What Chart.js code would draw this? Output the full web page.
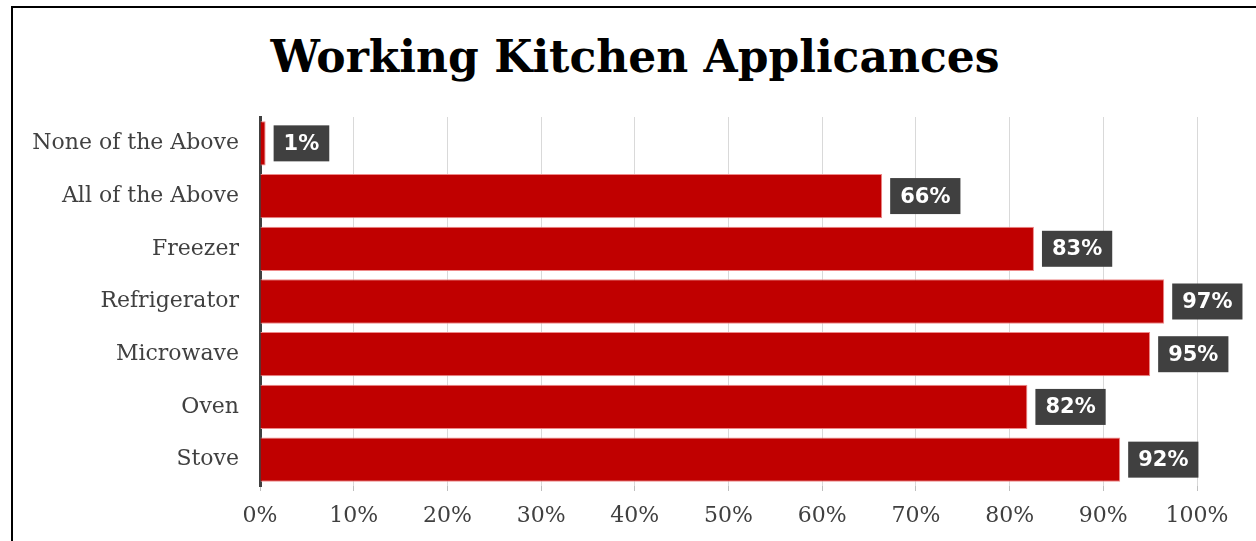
<!DOCTYPE html>
<html>
<head>
<meta charset="utf-8">
<script src="https://cdn.jsdelivr.net/npm/chart.js@4.4.1/dist/chart.umd.min.js"></script>
<style>
    html, body { margin: 0; padding: 0; background: #fff; overflow: hidden; }
    #wrap { position: relative; width: 1256px; height: 541px; }
    #frame { position: absolute; left: 11px; top: 6px; width: 1300px; height: 600px;
             border-left: 2px solid #000; border-top: 2px solid #000; }
    #title { position: absolute; left: 0; width: 1270px; top: 31px; text-align: center;
             font: bold 44px "DejaVu Serif", serif; color: #000; }
    canvas { position: absolute; left: 0; top: 0; }
</style>
</head>
<body>
<div id="wrap">
    <div id="frame"></div>
    <div id="title">Working Kitchen Applicances</div>
    <canvas id="chart" width="1256" height="541"></canvas>
</div>
<script>
// categories, top to bottom
const categories = ['None of the Above', 'All of the Above', 'Freezer', 'Refrigerator', 'Microwave', 'Oven', 'Stove'];
// share of respondents, percent
const values = [0.6, 66.4, 82.6, 96.5, 95.0, 81.9, 91.8];
const tickLabels = ['0%', '10%', '20%', '30%', '40%', '50%', '60%', '70%', '80%', '90%', '100%'];

// value boxes at the end of each bar
const barLabels = {
    id: 'barLabels',
    afterDatasetsDraw(chart) {
        const ctx = chart.ctx;
        const meta = chart.getDatasetMeta(0);
        ctx.save();
        ctx.font = 'bold 21px "DejaVu Sans", sans-serif';
        ctx.textBaseline = 'middle';
        meta.data.forEach((bar, i) => {
            const txt = Math.round(values[i]) + '%';
            const w = ctx.measureText(txt).width + 20;
            const h = 36;
            const x = bar.x + 8;
            const y = bar.y - h / 2;
            ctx.fillStyle = '#404040';
            ctx.fillRect(x, y, w, h);
            ctx.fillStyle = '#fff';
            ctx.textAlign = 'center';
            ctx.fillText(txt, x + w / 2, bar.y + 1);
        });
        ctx.restore();
    }
};

new Chart(document.getElementById('chart'), {
    type: 'bar',
    data: {
        labels: categories,
        datasets: [{
            data: values,
            backgroundColor: '#c00000',
            borderColor: '#ee8a8a',
            borderWidth: 1,
            borderSkipped: 'left',
            categoryPercentage: 1,
            barPercentage: 0.84
        }]
    },
    options: {
        indexAxis: 'y',
        responsive: false,
        animation: false,
        layout: { padding: { left: 12, right: 59, top: 117, bottom: 0 } },
        plugins: {
            legend: { display: false },
            tooltip: { enabled: false }
        },
        scales: {
            x: {
                min: 0, max: 100,
                ticks: {
                    stepSize: 10,
                    color: '#404040',
                    padding: 12,
                    font: { family: '"DejaVu Serif", serif', size: 22 },
                    callback: (v, i) => tickLabels[i]
                },
                grid: { color: '#d9d9d9', lineWidth: 1, tickLength: 5, tickColor: '#bfbfbf' },
                border: { display: false },
                afterFit: s => { s.height = 55; }
            },
            y: {
                ticks: {
                    color: '#404040',
                    padding: 21,
                    font: { family: '"DejaVu Serif", serif', size: 22 }
                },
                grid: { display: false, drawTicks: false },
                border: { display: true, color: '#404040', width: 3 },
                afterFit: s => { s.width = 248; }
            }
        }
    },
    plugins: [barLabels]
});
</script>
</body>
</html>
